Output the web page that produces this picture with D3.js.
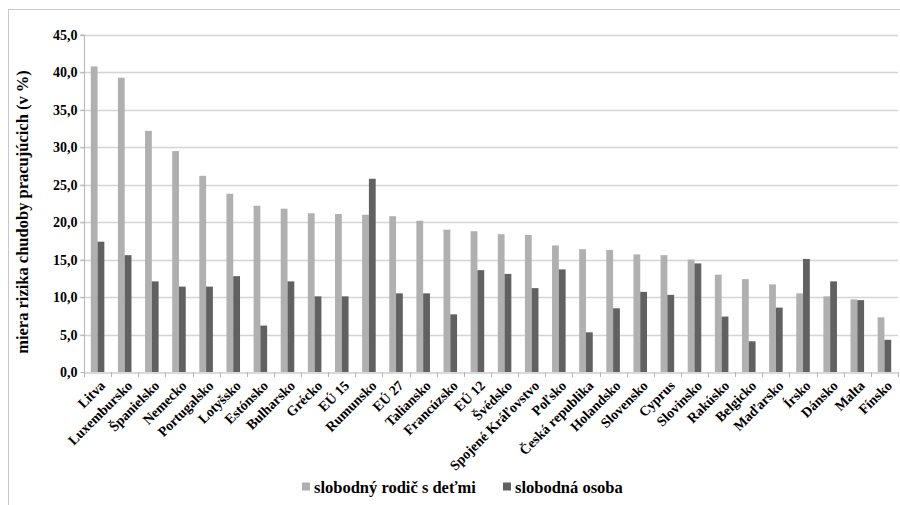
<!DOCTYPE html>
<html><head><meta charset="utf-8">
<script src="https://cdn.jsdelivr.net/npm/d3@7"></script>
<style>body{margin:0;background:#fff}svg{display:block}</style>
</head><body>
<svg id="c" width="900" height="505"></svg>
<script>
const categories = ["Litva","Luxembursko","Španielsko","Nemecko","Portugalsko","Lotyšsko","Estónsko","Bulharsko","Grécko","EÚ 15","Rumunsko","EÚ 27","Taliansko","Francúzsko","EÚ 12","Švédsko","Spojené Kráľovstvo","Poľsko","Česká republika","Holandsko","Slovensko","Cyprus","Slovinsko","Rakúsko","Belgicko","Maďarsko","Írsko","Dánsko","Malta","Fínsko"];
const parentWithChildren = [40.8,39.3,32.2,29.5,26.2,23.8,22.2,21.8,21.2,21.1,21.0,20.8,20.2,19.0,18.8,18.4,18.3,16.9,16.4,16.3,15.7,15.6,15.0,13.0,12.4,11.7,10.5,10.1,9.7,7.3];
const singlePerson = [17.4,15.6,12.1,11.4,11.4,12.8,6.2,12.1,10.1,10.1,25.8,10.5,10.5,7.7,13.6,13.1,11.2,13.7,5.3,8.5,10.7,10.3,14.5,7.4,4.1,8.6,15.1,12.1,9.6,4.3];
const seriesNames = ["slobodný rodič s deťmi","slobodná osoba"];
const yTicks = [0,5,10,15,20,25,30,35,40,45];
const colors = ["#b0b0b0","#616161"];

const svg = d3.select("#c");
const font = "'Liberation Serif','Times New Roman',serif";
const m = {l:84, r:898, t:35, b:372};

svg.append("rect").attr("x",8.5).attr("y",9.5).attr("width",900).attr("height",500)
  .attr("fill","none").attr("stroke","#c8c8c8");

const x = d3.scaleBand().domain(categories).range([m.l, m.r]).paddingInner(0).paddingOuter(0);
const y = d3.scaleLinear().domain([0,45]).range([m.b, m.t]);
const fmt = v => v.toFixed(1).replace(".", ",");

// gridlines
svg.append("g").selectAll("line").data(yTicks.filter(d=>d>0)).join("line")
  .attr("x1", m.l-4).attr("x2", m.r).attr("y1", d=>Math.round(y(d))+0.5).attr("y2", d=>Math.round(y(d))+0.5)
  .attr("stroke","#d4d4d4").attr("stroke-width",1.5);

// bars
const bw = x.bandwidth()*0.25;
const groups = [parentWithChildren, singlePerson];
groups.forEach((vals, si) => {
  svg.append("g").selectAll("rect").data(categories).join("rect")
    .attr("x", (d,i)=> x(d) + x.bandwidth()/2 + (si===0 ? -bw : 0))
    .attr("y", (d,i)=> y(vals[i]))
    .attr("width", bw)
    .attr("height", (d,i)=> y(0)-y(vals[i]))
    .attr("fill", colors[si]);
});

// y axis
const ya = d3.axisLeft(y).tickValues(yTicks).tickFormat(fmt).tickSize(4).tickPadding(3);
const gy = svg.append("g").attr("transform",`translate(${m.l+0.5},0)`).call(ya);
gy.select(".domain").attr("stroke","#b5b5b5").attr("d",`M-4,${m.t}H0V${m.b}`);
gy.selectAll(".tick line").attr("stroke","#b5b5b5");
gy.selectAll("text").attr("font-family",font).attr("font-weight","bold").attr("font-size","14px").attr("fill","#000");

// x axis
const xa = d3.axisBottom(x).tickSize(0).tickFormat("");
const gx = svg.append("g").attr("transform",`translate(0,${m.b+0.5})`).call(xa);
gx.select(".domain").attr("stroke","#b5b5b5");
gx.selectAll(".tick").remove();
svg.append("g").selectAll("line").data(categories.concat(["__end"])).join("line")
  .attr("x1",(d,i)=> Math.round(m.l + i*x.step())+0.5).attr("x2",(d,i)=> Math.round(m.l + i*x.step())+0.5)
  .attr("y1",m.b).attr("y2",m.b+5).attr("stroke","#b5b5b5");

svg.append("g").selectAll("text").data(categories).join("text")
  .attr("transform", d=>`translate(${x(d)+x.bandwidth()/2+5},${m.b+11}) rotate(-45)`)
  .attr("text-anchor","end").attr("dy","0.35em")
  .attr("font-family",font).attr("font-weight","bold").attr("font-size","14px").attr("fill","#000")
  .text(d=>d);

// y title
svg.append("text").attr("transform",`translate(28,212) rotate(-90)`)
  .attr("text-anchor","middle").attr("font-family",font).attr("font-weight","bold").attr("font-size","16.5px")
  .text("miera rizika chudoby pracujúcich (v %)");

// legend
const leg = svg.append("g").attr("transform","translate(302,487)");
const lx = [0, 201];
seriesNames.forEach((n,i)=>{
  leg.append("rect").attr("x",lx[i]).attr("y",-4.5).attr("width",8).attr("height",8).attr("fill",colors[i]);
  leg.append("text").attr("x",lx[i]+12).attr("y",0).attr("dy","0.35em")
    .attr("font-family",font).attr("font-weight","bold").attr("font-size","16.5px").text(n);
});
</script>
</body></html>
